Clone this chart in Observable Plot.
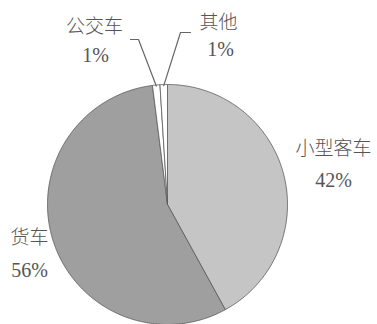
<!DOCTYPE html>
<html><head><meta charset="utf-8">
<script src="https://cdn.jsdelivr.net/npm/d3@7"></script>
<script src="https://cdn.jsdelivr.net/npm/@observablehq/plot@0.6"></script>
<style>
html,body{margin:0;padding:0;background:#fff}
</style>
</head><body><div id="chart"></div>
<script>
// ---- data ----
const categories = ["小型客车", "货车", "公交车", "其他"];
const shares = [42, 56, 1, 1];
const percentLabels = ["42%", "56%", "1%", "1%"];
const fills = ["#c5c5c5", "#9f9f9f", "#ffffff", "#ffffff"];

// ---- layout (pixels relative to pie centre, y pointing up) ----
const W = 377, H = 324, cx = 167, cy = 204, R = 120;
const nameAt = [[166, 56], [-138, -33], [-73, 178], [51, 182]];
const pctAt = [[166, 24], [-138, -66], [-72, 149], [53, 155]];
const elbows = [null, null, [[-29, 165], [-37, 165]], [[13, 172], [23, 172]]];

const total = d3.sum(shares);
let acc = 0;
const slices = categories.map((c, i) => {
  const a0 = acc / total * 2 * Math.PI;
  acc += shares[i];
  const a1 = acc / total * 2 * Math.PI;
  return {c, a0, a1, i};
});

const polyPts = [];
slices.forEach(s => {
  polyPts.push({c: s.c, x: 0, y: 0});
  const n = Math.max(2, Math.ceil((s.a1 - s.a0) / (Math.PI / 180)));
  for (let k = 0; k <= n; k++) {
    const a = s.a0 + (s.a1 - s.a0) * k / n;
    polyPts.push({c: s.c, x: R * Math.sin(a), y: R * Math.cos(a)});
  }
  polyPts.push({c: s.c, x: 0, y: 0});
});

const leaderPts = [];
slices.forEach(s => {
  if (!elbows[s.i]) return;
  const m = (s.a0 + s.a1) / 2;
  leaderPts.push({c: s.c, x: (R - 1) * Math.sin(m), y: (R - 1) * Math.cos(m)});
  elbows[s.i].forEach(([x, y]) => leaderPts.push({c: s.c, x, y}));
});

const nameLabels = categories.map((c, i) => ({t: c, x: nameAt[i][0], y: nameAt[i][1]}));
const pctLabels = percentLabels.map((p, i) => ({t: p, x: pctAt[i][0], y: pctAt[i][1]}));

const chart = Plot.plot({
  width: W, height: H, margin: 0,
  style: {background: "#fff", fontFamily: "Liberation Serif"},
  x: {domain: [-cx, W - cx], axis: null},
  y: {domain: [-(H - cy), cy], axis: null},
  color: {domain: categories, range: fills},
  marks: [
    Plot.line(polyPts, {x: "x", y: "y", z: "c", fill: "c", stroke: "#5a5a5a", strokeWidth: 0.8, strokeLinejoin: "round"}),
    Plot.line(leaderPts, {x: "x", y: "y", z: "c", stroke: "#666", strokeWidth: 1.2}),
    Plot.text(nameLabels, {x: "x", y: "y", text: "t", fontSize: 19, fill: "#555", fontFamily: "Noto Sans CJK SC", fontWeight: 300}),
    Plot.text(pctLabels, {x: "x", y: "y", text: "t", fontSize: 20, fill: "#555", fontFamily: "Liberation Serif"})
  ]
});
chart.setAttribute("font-family", "Liberation Serif");
d3.select(chart).selectAll("text").each(function() {
  const isPct = /%/.test(this.textContent);
  this.setAttribute("font-family", isPct ? "Liberation Serif" : "Noto Sans CJK SC");
  this.setAttribute("font-weight", isPct ? "400" : "300");
});
document.getElementById("chart").append(chart);
</script>
</body></html>
